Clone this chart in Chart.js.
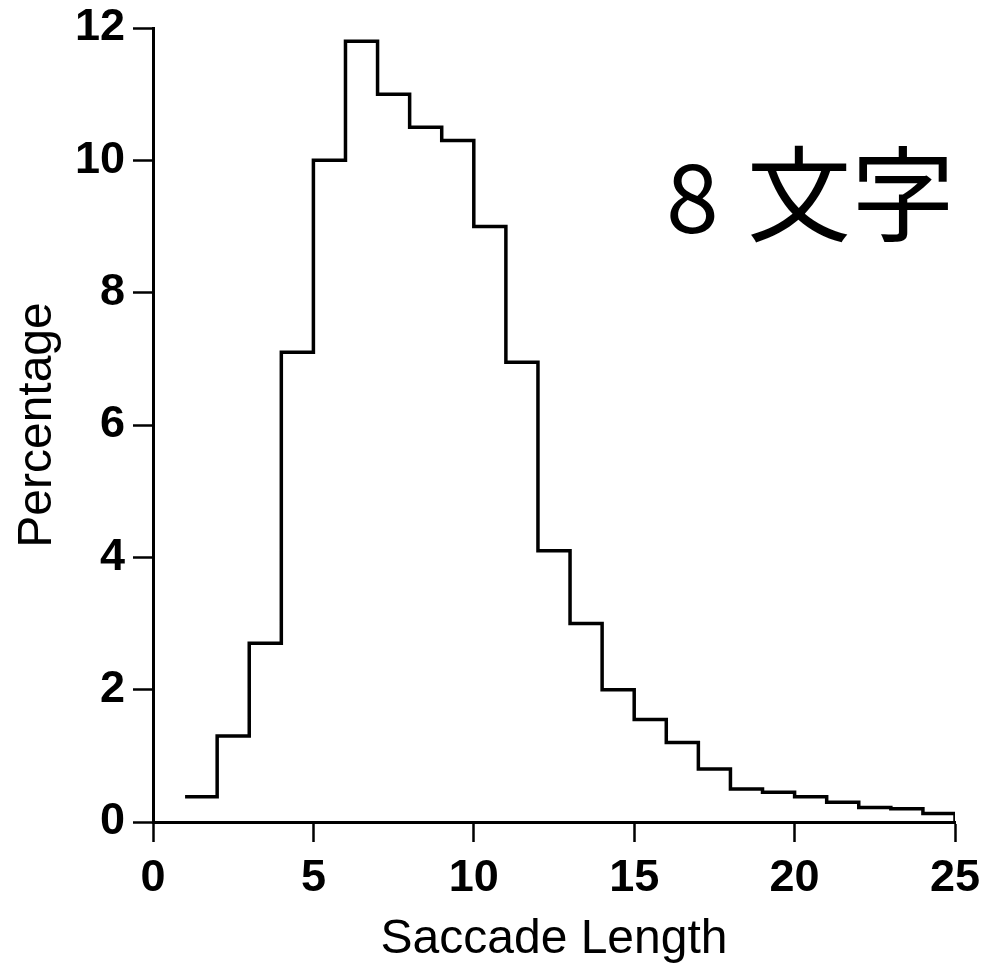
<!DOCTYPE html>
<html lang="en">
  <head>
    <meta charset="UTF-8">
    <title>Saccade Length</title>
    <script src="https://cdn.jsdelivr.net/npm/chart.js"></script>
    <style>
      html, body { margin: 0; padding: 0; background: #fff; }
      #wrap { position: relative; width: 983px; height: 963px; }
    </style>
  </head>
  <body>
    <div id="wrap">
      <canvas id="histChart" width="983" height="963"></canvas>
    </div>
    <script>
      // bin edges (saccade length) and percentage per bin
      const binStarts = [1, 2, 3, 4, 5, 6, 7, 8, 9, 10, 11, 12, 13, 14, 15, 16, 17, 18, 19, 20, 21, 22, 23, 24];
      const binEnd = 25;
      const percentages = [0.38, 1.3, 2.7, 7.1, 10.0, 11.8, 11.0, 10.5, 10.3, 9.0, 6.95, 4.1, 3.0, 2.0, 1.55, 1.2, 0.8, 0.5, 0.45, 0.38, 0.3, 0.22, 0.2, 0.13];
      const xTicks = [0, 5, 10, 15, 20, 25];
      const yTicks = [0, 2, 4, 6, 8, 10, 12];
      const annotationNumber = '8';
      const annotationText = '文字';

      const points = binStarts.map((x, i) => ({ x: x, y: percentages[i] }));
      points.push({ x: binEnd, y: percentages[percentages.length - 1] });
      points.push({ x: binEnd, y: 0 });

      const tickFont = { family: "'Liberation Sans', Arial, sans-serif", size: 45, weight: 'bold' };
      const titleFont = { family: "'Liberation Sans', Arial, sans-serif", size: 48, lineHeight: 0.95 };

      const annotationPlugin = {
        id: 'annotationText',
        afterDraw(chart) {
          const ctx = chart.ctx;
          ctx.save();
          ctx.fillStyle = '#000';
          ctx.textBaseline = 'alphabetic';
          ctx.textAlign = 'left';
          ctx.font = "95px 'Noto Sans CJK JP'";
          ctx.fillText(annotationNumber, 666, 233);
          ctx.font = "104px 'Noto Sans CJK JP'";
          ctx.fillText(annotationText, 747, 234);
          ctx.restore();
        }
      };

      new Chart(document.getElementById('histChart'), {
        type: 'line',
        data: {
          datasets: [{
            data: points,
            stepped: 'before',
            borderColor: '#000',
            borderWidth: 3.5,
            pointRadius: 0,
            fill: false
          }]
        },
        options: {
          responsive: false,
          animation: false,
          layout: { padding: { top: 28, right: 28, left: 0, bottom: 0 } },
          plugins: {
            legend: { display: false },
            tooltip: { enabled: false }
          },
          scales: {
            x: {
              type: 'linear',
              min: 0,
              max: 25,
              afterBuildTicks: (scale) => { scale.ticks = xTicks.map(v => ({ value: v })); },
              afterFit: (scale) => {
                scale.height = 141;
                scale.paddingLeft = 0;
                scale.paddingRight = 0;
              },
              grid: { drawOnChartArea: false, drawTicks: true, tickLength: 20, tickColor: '#000', tickWidth: 2.5 },
              border: { display: true, color: '#000', width: 3 },
              ticks: { color: '#000', font: tickFont, padding: 10, maxRotation: 0 },
              title: { display: true, text: 'Saccade Length', color: '#000', font: titleFont, padding: { top: 0, bottom: 0 } }
            },
            y: {
              min: 0,
              max: 12,
              afterBuildTicks: (scale) => { scale.ticks = yTicks.map(v => ({ value: v })); },
              afterFit: (scale) => {
                scale.width = 153;
                scale.paddingTop = 0;
                scale.paddingBottom = 0;
              },
              grid: { drawOnChartArea: false, drawTicks: true, tickLength: 20, tickColor: '#000', tickWidth: 2.5 },
              border: { display: true, color: '#000', width: 3 },
              ticks: { color: '#000', font: tickFont, padding: 8 },
              title: { display: true, text: 'Percentage', color: '#000', font: { family: titleFont.family, size: 48 }, padding: { top: 9, bottom: 0 } }
            }
          }
        },
        plugins: [annotationPlugin]
      });
    </script>
  </body>
</html>
